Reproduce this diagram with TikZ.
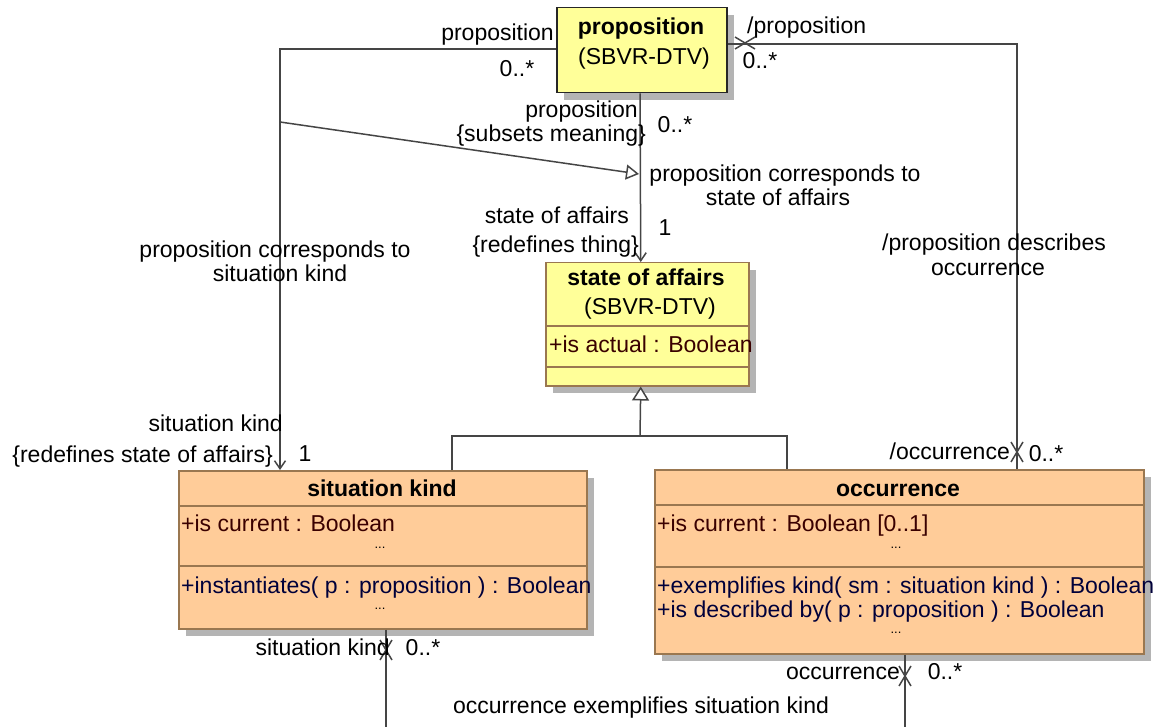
\documentclass[tikz,border=0pt]{standalone}
\usepackage{fontspec}
\setmainfont{Liberation Sans}
\usepackage{xcolor}
\definecolor{umlYellow}{HTML}{FFFF99}
\definecolor{umlPeach}{HTML}{FFCC99}
\definecolor{umlBorder}{HTML}{9A7750}
\definecolor{umlLine}{HTML}{454545}
\definecolor{umlShadow}{HTML}{B4B4B4}
\definecolor{umlAttr}{HTML}{3A0000}
\definecolor{umlOper}{HTML}{00003A}
\usetikzlibrary{arrows.meta,shadows}

\tikzset{
  every node/.style={font=\fontsize{23}{24}\selectfont, inner sep=0pt},
  lbl/.style={text height=23pt, text depth=5pt},
  dots/.style={font=\fontsize{13}{13}\selectfont},
  classbox/.style={draw=umlBorder, line width=1.5pt, anchor=north west,
    drop shadow={shadow xshift=7pt, shadow yshift=-7pt, fill=umlShadow, opacity=1}},
  sepline/.style={draw=umlBorder, line width=1.5pt},
  assoc/.style={draw=umlLine, line width=1.5pt},
  navi/.style={-{Straight Barb[length=8pt, width=11pt]}},
  gen/.style={-{Triangle[open, length=14pt, width=17pt, fill=white]}},
  subs/.style={-{Triangle[open, length=13pt, width=15pt, fill=white]}}
}

\begin{document}
\begin{tikzpicture}[x=1pt, y=-1pt]
  \useasboundingbox (0,0) rectangle (1156,727);

  % classes
  \node[classbox, draw=black!85, fill=umlYellow, minimum width=170pt, minimum height=85pt] (prop) at (556,7) {};
  \node[lbl] (propT) at (641,26) {\textbf{proposition}};
  \node[lbl] (propS) at (644,56) {(SBVR-DTV)};

  \node[classbox, fill=umlYellow, minimum width=203pt, minimum height=123pt] (soa) at (545,262) {};
  \node[lbl] (soaT) at (646,277) {\textbf{state of affairs}};
  \node[lbl] (soaS) at (650,305) {(SBVR-DTV)};
  \draw[sepline] ([yshift=-64pt]soa.north west) -- ([yshift=-64pt]soa.north east);
  \draw[sepline] ([yshift=-105pt]soa.north west) -- ([yshift=-105pt]soa.north east);
  \node[lbl, anchor=west, text=umlAttr] (soaA) at (549,343) {+is actual : Boolean};

  \node[classbox, fill=umlPeach, minimum width=408pt, minimum height=158pt] (sitkind) at (178,470) {};
  \node[lbl] (sitkindT) at (382,487) {\textbf{situation kind}};
  \draw[sepline] ([yshift=-36pt]sitkind.north west) -- ([yshift=-36pt]sitkind.north east);
  \draw[sepline] ([yshift=-96pt]sitkind.north west) -- ([yshift=-96pt]sitkind.north east);
  \node[lbl, anchor=west, text=umlAttr] (sitkindA) at (181,522) {+is current : Boolean};
  \node[dots] (sitkindD1) at (380,548) {...};
  \node[lbl, anchor=west, text=umlOper] (sitkindO) at (181,584) {+instantiates( p : proposition ) : Boolean};
  \node[dots] (sitkindD2) at (380,609) {...};

  \node[classbox, fill=umlPeach, minimum width=489pt, minimum height=184pt] (occ) at (654,469) {};
  \node[lbl] (occT) at (898,487) {\textbf{occurrence}};
  \draw[sepline] ([yshift=-36pt]occ.north west) -- ([yshift=-36pt]occ.north east);
  \draw[sepline] ([yshift=-98pt]occ.north west) -- ([yshift=-98pt]occ.north east);
  \node[lbl, anchor=west, text=umlAttr] (occA) at (657,522) {+is current : Boolean [0..1]};
  \node[dots] (occD1) at (896,548) {...};
  \node[lbl, anchor=west, text=umlOper] (occO1) at (657,584) {+exemplifies kind( sm : situation kind ) : Boolean};
  \node[lbl, anchor=west, text=umlOper] (occO2) at (657,608) {+is described by( p : proposition ) : Boolean};
  \node[dots] (occD2) at (896,633) {...};

  % proposition corresponds to situation kind
  \draw[assoc, navi] ([yshift=1pt]prop.west) -| ([xshift=102pt]sitkind.north west);
  \node[lbl, anchor=east] (l1a) at (554,32) {proposition};
  \node[lbl] (l1b) at (517,68) {0..*};
  \node[lbl] (l1c) at (275,249) {proposition corresponds to};
  \node[lbl] (l1c2) at (280,272) {situation kind};
  \node[lbl, anchor=east] (l1d) at (283,422) {situation kind};
  \node[lbl, anchor=east] (l1e) at (273,453) {\{redefines state of affairs\}};
  \node[lbl] (l1f) at (305,452) {1};

  % proposition corresponds to state of affairs
  \draw[assoc, navi] (prop.south -| 640,0) -- ([xshift=-6.5pt]soa.north);
  \node[lbl, anchor=east] (l2a) at (638,109) {proposition};
  \node[lbl, anchor=east] (l2a2) at (646,133) {\{subsets meaning\}};
  \node[lbl] (l2b) at (675,124) {0..*};
  \node[lbl] (l2c) at (785,173) {proposition corresponds to};
  \node[lbl] (l2c2) at (778,197) {state of affairs};
  \node[lbl, anchor=east] (l2d) at (629,215) {state of affairs};
  \node[lbl, anchor=east] (l2e) at (639,244) {\{redefines thing\}};
  \node[lbl] (l2f) at (665,227) {1};

  % subsetting between the two associations
  \coordinate (subsA) at (280,122);
  \coordinate (subsB) at (639,174);
  \draw[assoc, subs] (subsA) -- (subsB);

  % proposition describes occurrence
  \draw[assoc] ([yshift=6pt]prop.east) -| ([xshift=363pt]occ.north west);
  \coordinate (x1) at (745,43);
  \coordinate (x2) at (1017,452);
  \draw[assoc] (x1) ++(-10,-6) -- ++(20,12) ++(0,-12) -- ++(-20,12);
  \draw[assoc] (x2) ++(-6,-10) -- ++(12,20) ++(0,-20) -- ++(-12,20);
  \node[lbl, anchor=west] (l3a) at (747,25) {/proposition};
  \node[lbl] (l3b) at (760,60) {0..*};
  \node[lbl] (l3c) at (994,242) {/proposition describes};
  \node[lbl] (l3c2) at (988,267) {occurrence};
  \node[lbl, anchor=east] (l3d) at (1010,450) {/occurrence};
  \node[lbl] (l3e) at (1046,452) {0..*};

  % generalization
  \coordinate (gjoin) at (640,436);
  \draw[assoc] ([xshift=274pt]sitkind.north west) |- (gjoin) -| ([xshift=133pt]occ.north west);
  \draw[assoc, gen] (gjoin) -- ([xshift=-6.5pt]soa.south);

  % occurrence exemplifies situation kind
  \coordinate (ex1) at (386,727);
  \coordinate (ex2) at (905,727);
  \draw[assoc] ([xshift=208pt]sitkind.south west) -- (ex1);
  \draw[assoc] ([xshift=251pt]occ.south west) -- (ex2);
  \coordinate (x3) at (386,650);
  \coordinate (x4) at (905,676);
  \draw[assoc] (x3) ++(-6,-10) -- ++(12,20) ++(0,-20) -- ++(-12,20);
  \draw[assoc] (x4) ++(-6,-10) -- ++(12,20) ++(0,-20) -- ++(-12,20);
  \node[lbl, anchor=east] (l4a) at (390,646) {situation kind};
  \node[lbl] (l4b) at (423,646) {0..*};
  \node[lbl, anchor=east] (l4c) at (900,670) {occurrence};
  \node[lbl] (l4d) at (945,670) {0..*};
  \node[lbl] (l4e) at (641,704) {occurrence exemplifies situation kind};
\end{tikzpicture}
\end{document}
